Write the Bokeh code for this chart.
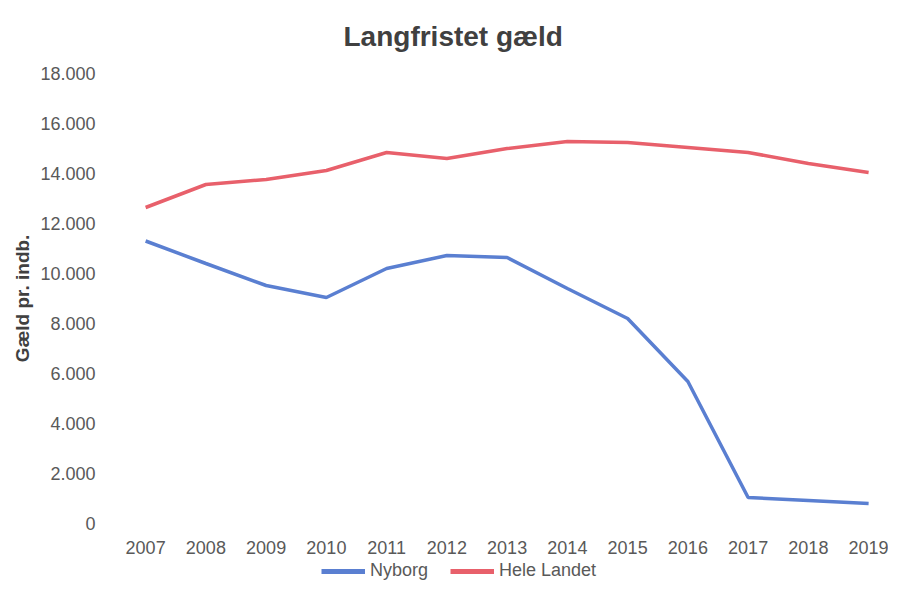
from bokeh.plotting import figure
from bokeh.layouts import column
from bokeh.models import Range1d, FixedTicker, CustomJSTickFormatter, Legend, LegendItem, Title
from bokeh.embed import file_html
from bokeh.resources import INLINE

years = [2007, 2008, 2009, 2010, 2011, 2012, 2013, 2014, 2015, 2016, 2017, 2018, 2019]
nyborg = [11300, 10400, 9520, 9040, 10200, 10720, 10640, 9400, 8200, 5680, 1040, 920, 800]
hele_landet = [12640, 13560, 13760, 14120, 14840, 14600, 15000, 15280, 15240, 15040, 14840, 14400, 14040]
y_ticks = [0, 2000, 4000, 6000, 8000, 10000, 12000, 14000, 16000, 18000]
series_names = ["Nyborg", "Hele Landet"]
series_values = [nyborg, hele_landet]
series_colors = ["#5A7FD1", "#E8606B"]

FONT = "Liberation Sans"
TXT = "#595959"

p = figure(width=888, height=559, output_backend="svg", toolbar_location=None,
           x_range=Range1d(2006.5, 2019.33), y_range=Range1d(0, 18000),
           min_border_left=115, min_border_right=0, min_border_top=73, min_border_bottom=36)
p.title = Title(text="Langfristet gæld", align="left", offset=228, text_font=FONT,
                standoff=40, vertical_align="top",
                text_font_size="28px", text_font_style="bold", text_color="#404040")
p.outline_line_color = None
p.xgrid.visible = False
p.ygrid.visible = False

for vals, col in zip(series_values, series_colors):
    p.line(years, vals, line_color=col, line_width=3.5)

p.xaxis.ticker = FixedTicker(ticks=years)
p.yaxis.ticker = FixedTicker(ticks=y_ticks)
p.yaxis.formatter = CustomJSTickFormatter(code="""
return Math.round(tick).toString().replace(/\\B(?=(\\d{3})+(?!\\d))/g, '.');
""")
for ax in (p.xaxis[0], p.yaxis[0]):
    ax.axis_line_color = None
    ax.major_tick_line_color = None
    ax.minor_tick_line_color = None
    ax.major_tick_out = 0
    ax.major_tick_in = 0
    ax.minor_tick_out = 0
    ax.major_label_text_font = FONT
    ax.major_label_text_font_size = "18px"
    ax.major_label_text_color = TXT
p.xaxis.major_label_standoff = 17
p.yaxis.major_label_standoff = 20
p.yaxis.axis_label = "Gæld pr. indb."
p.yaxis.axis_label_text_font = FONT
p.yaxis.axis_label_text_font_size = "19px"
p.yaxis.axis_label_text_font_style = "bold"
p.yaxis.axis_label_text_color = "#404040"
p.yaxis.axis_label_standoff = 4

# legend strip below the chart (series drawn off-range, only their legend swatches show)
p2 = figure(width=888, height=22, output_backend="svg", toolbar_location=None,
            x_range=Range1d(0, 1), y_range=Range1d(0, 1),
            x_axis_location=None, y_axis_location=None,
            min_border=0, min_border_left=0, min_border_right=0, min_border_top=0, min_border_bottom=0)
p2.outline_line_color = None
p2.grid.visible = False
items = []
for name, vals, col in zip(series_names, series_values, series_colors):
    r = p2.line(years, vals, line_color=col, line_width=5)
    items.append(LegendItem(label=name, renderers=[r]))
legend = Legend(items=items, orientation="horizontal", location=(206, 0),
                label_text_font=FONT, label_text_font_size="18px", label_text_color=TXT,
                glyph_width=44, glyph_height=18, label_height=18, spacing=22, label_standoff=5,
                border_line_color=None, background_fill_alpha=0, padding=0, margin=0)
p2.add_layout(legend, "center")

layout = column(p, p2, spacing=0)
open("out.html", "w").write(file_html(layout, INLINE))
